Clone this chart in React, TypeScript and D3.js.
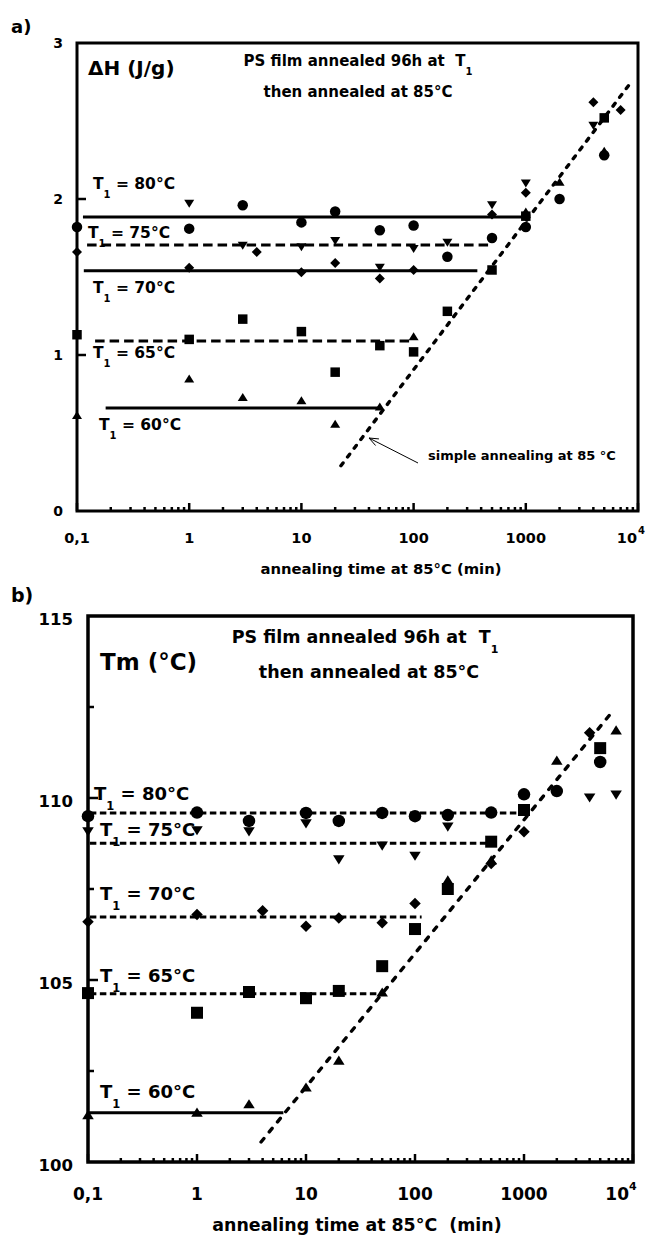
import React from 'react';
import * as d3 from 'd3';

const FONT = '"DejaVu Sans", "Liberation Sans", sans-serif';

// ---------- Panel a : ΔH (J/g) vs annealing time (min) ----------
const dH80: [number, number][] = [[0.1, 1.82], [1, 1.81], [3, 1.96], [10, 1.85], [20, 1.92], [50, 1.80], [100, 1.83], [200, 1.63], [500, 1.75], [1000, 1.82], [2000, 2.00], [5000, 2.28]];
const dH75: [number, number][] = [[1, 1.97], [3, 1.70], [10, 1.69], [20, 1.73], [50, 1.56], [100, 1.68], [200, 1.72], [500, 1.96], [1000, 2.10], [4000, 2.47]];
const dH70: [number, number][] = [[0.1, 1.66], [1, 1.56], [4, 1.66], [10, 1.53], [20, 1.59], [50, 1.49], [100, 1.545], [500, 1.90], [1000, 2.04], [4000, 2.62], [7000, 2.57]];
const dH65: [number, number][] = [[0.1, 1.13], [1, 1.10], [3, 1.23], [10, 1.15], [20, 0.89], [50, 1.06], [100, 1.02], [200, 1.28], [500, 1.545], [1000, 1.89], [5000, 2.52]];
const dH60: [number, number][] = [[0.1, 0.615], [1, 0.85], [3, 0.73], [10, 0.71], [20, 0.56], [50, 0.67], [100, 1.12], [1000, 1.92], [2000, 2.11], [5000, 2.31]];
// plateau lines: [value, tStart, tEnd]
const levelsA: [number, number, number][] = [[1.885, 0.113, 1000], [1.705, 0.123, 500], [1.54, 0.115, 370], [1.09, 0.145, 100], [0.66, 0.18, 50]];
const levelDashA = [false, true, false, true, false];
const diagA: [number, number][] = [[22.5, 0.29], [8500, 2.74]];
const labelsA: [string, number, number][] = [['80', 93, 189], ['75', 88, 238], ['70', 93, 293], ['65', 93, 358], ['60', 99, 430]];
const yTicksA = [0, 1, 2, 3];

// ---------- Panel b : Tm (°C) vs annealing time (min) ----------
const tm80: [number, number][] = [[0.1, 109.5], [1, 109.6], [3, 109.37], [10, 109.59], [20, 109.37], [50, 109.59], [100, 109.5], [200, 109.53], [500, 109.6], [1000, 110.1], [2000, 110.19], [5000, 110.99]];
const tm75: [number, number][] = [[0.1, 109.07], [1, 109.1], [3, 109.07], [10, 109.29], [20, 108.3], [50, 108.68], [100, 108.4], [200, 109.2], [4000, 110.0], [7000, 110.08]];
const tm70: [number, number][] = [[0.1, 106.6], [1, 106.8], [4, 106.9], [10, 106.48], [20, 106.7], [50, 106.57], [100, 107.1], [500, 108.2], [1000, 109.07], [4000, 111.79]];
const tm65: [number, number][] = [[0.1, 104.64], [1, 104.1], [3, 104.67], [10, 104.5], [20, 104.7], [50, 105.38], [100, 106.4], [200, 107.5], [500, 108.8], [1000, 109.67], [5000, 111.37]];
const tm60: [number, number][] = [[0.1, 101.3], [1, 101.37], [3, 101.6], [10, 102.06], [20, 102.8], [50, 104.67], [200, 107.75], [500, 108.3], [2000, 111.04], [7000, 111.87]];
const levelsB: [number, number, number][] = [[109.59, 0.104, 950], [108.76, 0.104, 500], [106.73, 0.104, 115], [104.62, 0.104, 50], [101.35, 0.1, 6.2]];
const levelDashB = [true, true, true, true, false];
const diagB: [number, number][] = [[3.87, 100.55], [6413, 112.36]];
const labelsB: [string, number, number][] = [['80', 94, 800], ['75', 100, 836], ['70', 100, 900], ['65', 100, 982], ['60', 100, 1098]];
const yTicksB = [100, 105, 110, 115];
const yMinorB = [102.5, 107.5, 112.5];

const xTickLabels: [number, string][] = [[0.1, '0,1'], [1, '1'], [10, '10'], [100, '100'], [1000, '1000']];
const decades = [0.1, 1, 10, 100, 1000, 10000];

type Kind = 'circle' | 'down' | 'diamond' | 'square' | 'up';

function symbolPath(kind: Kind, s: number): string {
  const h = s / 2;
  switch (kind) {
    case 'circle':
      return d3.symbol(d3.symbolCircle, Math.PI * h * h)() as string;
    case 'square':
      return `M${-h},${-h}H${h}V${h}H${-h}Z`;
    case 'up':
      return `M0,${-h * 0.8}L${h},${h * 0.8}L${-h},${h * 0.8}Z`;
    case 'down':
      return `M0,${h * 0.8}L${h},${-h * 0.8}L${-h},${-h * 0.8}Z`;
    case 'diamond':
      return `M0,${-h}L${h},0L0,${h}L${-h},0Z`;
  }
}

function minorTicks(): number[] {
  const out: number[] = [];
  for (let e = -1; e <= 3; e++) for (let k = 2; k <= 9; k++) out.push(k * Math.pow(10, e));
  return out;
}

interface PanelProps {
  x: d3.ScaleLogarithmic<number, number>;
  y: d3.ScaleLinear<number, number>;
  series: [[number, number][], Kind, number][];
  levels: [number, number, number][];
  levelDash: boolean[];
  levelDashArray: string;
  diag: [number, number][];
  diagDash: string;
  frameW: number;
  majorLen: number;
  minorLen: number;
}

function PanelMarks(p: PanelProps) {
  const [x0, x1] = p.x.range();
  const [y0, y1] = p.y.range();
  const line = d3.line<[number, number]>().x(d => p.x(d[0])).y(d => p.y(d[1]));
  return (
    <g>
      {decades.map((t, i) => (
        <line key={'M' + i} x1={p.x(t)} x2={p.x(t)} y1={y0} y2={y0 - p.majorLen} stroke="#000" strokeWidth={2.5} />
      ))}
      {minorTicks().map((t, i) => (
        <line key={'m' + i} x1={p.x(t)} x2={p.x(t)} y1={y0} y2={y0 - p.minorLen} stroke="#000" strokeWidth={2.5} />
      ))}
      {p.levels.map((l, i) => (
        <path key={'L' + i} d={line([[l[1], l[0]], [l[2], l[0]]]) as string} stroke="#000" strokeWidth={3}
          strokeDasharray={p.levelDash[i] ? p.levelDashArray : undefined} fill="none" />
      ))}
      <path d={line(p.diag) as string} stroke="#000" strokeWidth={3.4} strokeLinecap="round"
        strokeDasharray={p.diagDash} fill="none" />
      <rect x={x0} y={y1} width={x1 - x0} height={y0 - y1} fill="none" stroke="#000" strokeWidth={p.frameW} />
      {p.series.map(([data, kind, size], si) => (
        <g key={'s' + si}>
          {data.map((d, i) => (
            <path key={i} d={symbolPath(kind, size)} transform={`translate(${p.x(d[0])},${p.y(d[1])})`} fill="#000" />
          ))}
        </g>
      ))}
    </g>
  );
}

function T1Label({ t, x, y, fs, sub, dy }: { t: string; x: number; y: number; fs: number; sub: number; dy: number }) {
  return (
    <text x={x} y={y} fontSize={fs} fontWeight="bold" fontFamily={FONT}>
      T<tspan dy={dy} fontSize={sub}>1</tspan><tspan dy={-dy}>{` = ${t}°C`}</tspan>
    </text>
  );
}

const PRE = { whiteSpace: 'pre' as const };

export default function App() {
  const xA = d3.scaleLog().domain([0.1, 1e4]).range([77, 638]);
  const yA = d3.scaleLinear().domain([0, 3]).range([511, 43]);
  const xB = d3.scaleLog().domain([0.1, 1e4]).range([88, 633]);
  const yB = d3.scaleLinear().domain([100, 115]).range([1162, 616]);

  const seriesA: [[number, number][], Kind, number][] = [
    [dH80, 'circle', 10.5], [dH75, 'down', 10], [dH70, 'diamond', 10], [dH65, 'square', 9.5], [dH60, 'up', 10],
  ];
  const seriesB: [[number, number][], Kind, number][] = [
    [tm80, 'circle', 12.5], [tm75, 'down', 11.5], [tm70, 'diamond', 11.5], [tm65, 'square', 12], [tm60, 'up', 11.5],
  ];

  const tip: [number, number] = [369, 438];
  const tail: [number, number] = [418, 463];
  const ang = Math.atan2(tail[1] - tip[1], tail[0] - tip[0]);
  const ah = 10;
  const a1: [number, number] = [tip[0] + ah * Math.cos(ang + 0.38), tip[1] + ah * Math.sin(ang + 0.38)];
  const a2: [number, number] = [tip[0] + ah * Math.cos(ang - 0.38), tip[1] + ah * Math.sin(ang - 0.38)];

  return (
    <svg width={652} height={1236} style={{ position: 'absolute', left: 0, top: 0, background: '#fff' }}
      fontFamily={FONT}>
      <rect x={0} y={0} width={652} height={1236} fill="#fff" />

      {/* ================= Panel a ================= */}
      <text x={11} y={33} fontSize={18} fontWeight="bold">a)</text>
      <PanelMarks x={xA} y={yA} series={seriesA} levels={levelsA} levelDash={levelDashA} levelDashArray="9.5 5"
        diag={diagA} diagDash="3.5 7.5" frameW={3} majorLen={8} minorLen={4} />
      {yTicksA.filter(v => v > 0 && v < 3).map(v => (
        <line key={'ya' + v} x1={77} x2={86} y1={yA(v)} y2={yA(v)} stroke="#000" strokeWidth={2.5} />
      ))}
      {yTicksA.map(v => (
        <text key={'yla' + v} x={63} y={yA(v) + 5} fontSize={14} fontWeight="bold" textAnchor="end">{v}</text>
      ))}
      {xTickLabels.map(([t, s]) => (
        <text key={'xla' + s} x={xA(t)} y={543} fontSize={14.5} fontWeight="bold" textAnchor="middle">{s}</text>
      ))}
      <text x={xA(1e4) - 1} y={543} fontSize={14.5} fontWeight="bold" textAnchor="end">10</text>
      <text x={xA(1e4)} y={534} fontSize={10} fontWeight="bold">4</text>
      <text x={381} y={574} fontSize={14.8} fontWeight="bold" textAnchor="middle">annealing time at 85°C (min)</text>
      <text x={88} y={75} fontSize={20} fontWeight="bold">ΔH (J/g)</text>
      <text x={358} y={66} fontSize={15} fontWeight="bold" textAnchor="middle" style={PRE}>
        {'PS film annealed 96h at  T'}<tspan dy={9} fontSize={10}>1</tspan>
      </text>
      <text x={358} y={97} fontSize={15} fontWeight="bold" textAnchor="middle">then annealed at 85°C</text>
      {labelsA.map(([t, x, y]) => (
        <T1Label key={'la' + t} t={t} x={x} y={y} fs={15.5} sub={10} dy={9} />
      ))}
      <text x={428} y={460} fontSize={13} fontWeight="bold">simple annealing at 85 °C</text>
      <line x1={tail[0]} y1={tail[1]} x2={tip[0]} y2={tip[1]} stroke="#000" strokeWidth={1} />
      <path d={`M${a1[0]},${a1[1]}L${tip[0]},${tip[1]}L${a2[0]},${a2[1]}`} stroke="#000" strokeWidth={1} fill="none" />

      {/* ================= Panel b ================= */}
      <text x={11} y={602} fontSize={19} fontWeight="bold">b)</text>
      <PanelMarks x={xB} y={yB} series={seriesB} levels={levelsB} levelDash={levelDashB} levelDashArray="6.5 3.5"
        diag={diagB} diagDash="4.5 8.5" frameW={3.5} majorLen={8} minorLen={4} />
      {yTicksB.filter(v => v > 100 && v < 115).map(v => (
        <line key={'yb' + v} x1={88} x2={98} y1={yB(v)} y2={yB(v)} stroke="#000" strokeWidth={2.5} />
      ))}
      {yMinorB.map(v => (
        <line key={'ybm' + v} x1={88} x2={94} y1={yB(v)} y2={yB(v)} stroke="#000" strokeWidth={2.5} />
      ))}
      {yTicksB.map(v => (
        <text key={'ylb' + v} x={73} y={yB(v) + 9} fontSize={16.5} fontWeight="bold" textAnchor="end">{v}</text>
      ))}
      {xTickLabels.map(([t, s]) => (
        <text key={'xlb' + s} x={xB(t)} y={1200} fontSize={17} fontWeight="bold" textAnchor="middle">{s}</text>
      ))}
      <text x={xB(1e4) - 4} y={1200} fontSize={17} fontWeight="bold" textAnchor="end">10</text>
      <text x={xB(1e4) - 4} y={1190} fontSize={11} fontWeight="bold">4</text>
      <text x={357} y={1231} fontSize={17.4} fontWeight="bold" textAnchor="middle" style={PRE}>
        {'annealing time at 85°C  (min)'}
      </text>
      <text x={100} y={670} fontSize={23} fontWeight="bold">Tm (°C)</text>
      <text x={365} y={643} fontSize={17.5} fontWeight="bold" textAnchor="middle" style={PRE}>
        {'PS film annealed 96h at  T'}<tspan dy={10} fontSize={11}>1</tspan>
      </text>
      <text x={369} y={678} fontSize={17.5} fontWeight="bold" textAnchor="middle">then annealed at 85°C</text>
      {labelsB.map(([t, x, y]) => (
        <T1Label key={'lb' + t} t={t} x={x} y={y} fs={18} sub={11.5} dy={10} />
      ))}
    </svg>
  );
}
